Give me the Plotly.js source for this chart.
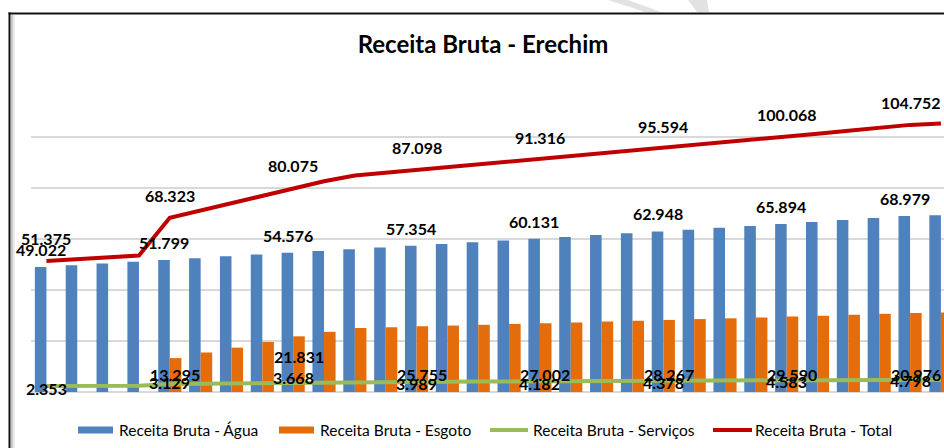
<!DOCTYPE html>
<html>
<head>
<meta charset="utf-8">
<script src="https://cdn.plot.ly/plotly-3.0.1.min.js"></script>
<style>html,body{margin:0;padding:0;background:#fff;}#chart{width:944px;height:448px;}</style>
</head>
<body>
<div id="chart"></div>
<script>
// ---- data ----
const categories = ["1","2","3","4","5","6","7","8","9","10","11","12","13","14","15",
                    "16","17","18","19","20","21","22","23","24","25","26","27","28","29","30"];
const agua = [49.022, 49.72, 50.41, 51.11, 51.799, 52.49, 53.19, 53.88, 54.576, 55.27,
              55.97, 56.66, 57.354, 58.05, 58.74, 59.44, 60.131, 60.83, 61.54, 62.24,
              62.948, 63.67, 64.40, 65.14, 65.894, 66.70, 67.50, 68.25, 68.979, 69.30];
const esgoto = [0, 0, 0, 0, 13.295, 15.5, 17.4, 19.6, 21.831, 23.6,
                25.1, 25.4, 25.755, 26.05, 26.35, 26.7, 27.002, 27.3, 27.6, 27.95,
                28.267, 28.6, 28.9, 29.25, 29.590, 29.95, 30.3, 30.65, 30.976, 31.15];
const servicos = [2.353, 2.37, 2.39, 2.41, 3.129, 3.27, 3.40, 3.54, 3.668, 3.75,
                  3.83, 3.91, 3.989, 4.04, 4.09, 4.14, 4.182, 4.23, 4.28, 4.33,
                  4.378, 4.43, 4.48, 4.53, 4.583, 4.64, 4.69, 4.74, 4.798, 4.85];
const total = [51.375, 52.09, 52.80, 53.52, 68.323, 71.26, 73.99, 77.02, 80.075, 82.62,
               84.90, 85.97, 87.098, 88.14, 89.18, 90.28, 91.316, 92.36, 93.42, 94.52,
               95.594, 96.70, 97.78, 98.92, 100.068, 101.29, 102.49, 103.64, 104.752, 105.30];
const labelIndex = [0, 4, 8, 12, 16, 20, 24, 28];
const seriesNames = ["Receita Bruta - Água", "Receita Bruta - Esgoto", "Receita Bruta - Serviços", "Receita Bruta - Total"];
const titleText = "Receita Bruta - Erechim";

// ---- styles ----
const colors = {agua:"#4F81BD", esgoto:"#E46C0A", serv:"#9BBB59", total:"#C00000"};
const FONT = "Lato, 'Open Sans', sans-serif";
const L = 31, R = 944, T = 86, B = 392, W = R - L, H = B - T;
const px = x => (x - L) / W;
const py = y => (B - y) / H;

const traces = [
  {type:"bar", name:seriesNames[0], x:categories, y:agua, marker:{color:colors.agua}, hoverinfo:"y"},
  {type:"bar", name:seriesNames[1], x:categories, y:esgoto, marker:{color:colors.esgoto}, hoverinfo:"y"},
  {type:"scatter", mode:"lines", name:seriesNames[2], x:categories, y:servicos,
   line:{color:colors.serv, width:4}},
  {type:"scatter", mode:"lines", name:seriesNames[3], x:categories, y:total,
   line:{color:colors.total, width:4}}
];

const lblFont = {family:FONT, size:16, color:"#000"};
const ann = [];
function fmt(v){ return v.toFixed(3); }
const servShift = {0:-2, 4:2, 8:5, 12:-2, 16:-2, 20:-1.5, 24:-1, 28:-0.5};
labelIndex.forEach(i => {
  // x given as the category index (numeric) so it lands on the right category
  ann.push({x:i, y:total[i], xref:"x", yref:"y", text:"<b>"+fmt(total[i])+"</b>",
            showarrow:false, yshift:22, font:lblFont});
  ann.push({x:i, y:agua[i], xref:"x", yref:"y", text:"<b>"+fmt(agua[i])+"</b>",
            showarrow:false, yshift:17.5, xshift:-5.5, font:lblFont});
  if (esgoto[i] > 0) {
    ann.push({x:i, y:0, xref:"x", yref:"y", text:"<b>"+fmt(esgoto[i])+"</b>",
              showarrow:false, yshift:(i === 8 ? 36 : 18), xshift:5.5, font:lblFont});
  }
  ann.push({x:i, y:servicos[i], xref:"x", yref:"y", text:"<b>"+fmt(servicos[i])+"</b>",
            showarrow:false, yshift:servShift[i] || 0, font:lblFont});
});

// custom legend
const legFont = {family:FONT, size:15.5, color:"#000"};
const legY = 430;
const legItems = [
  {kind:"rect", x0:78, x1:113, tx:117, color:colors.agua, name:seriesNames[0]},
  {kind:"rect", x0:279, x1:314, tx:318, color:colors.esgoto, name:seriesNames[1]},
  {kind:"line", x0:490, x1:528, tx:531, color:colors.serv, name:seriesNames[2]},
  {kind:"line", x0:713, x1:752, tx:753, color:colors.total, name:seriesNames[3]}
];
const shapes = [];
legItems.forEach(it => {
  if (it.kind === "rect") {
    shapes.push({type:"rect", xref:"paper", yref:"paper", x0:px(it.x0), x1:px(it.x1),
                 y0:py(legY-3.5), y1:py(legY+3.5), fillcolor:it.color, line:{width:0}});
  } else {
    shapes.push({type:"line", xref:"paper", yref:"paper", x0:px(it.x0), x1:px(it.x1),
                 y0:py(legY), y1:py(legY), line:{color:it.color, width:4}});
  }
  ann.push({xref:"paper", yref:"paper", x:px(it.tx), y:py(legY), xanchor:"left", yanchor:"middle",
            text:it.name, showarrow:false, font:legFont});
});

// frame + shadow + watermark pieces
shapes.push({type:"path", xref:"paper", yref:"paper", layer:"below",
  path:`M${px(608)},${py(0)} L${px(628)},${py(0)} L${px(661)},${py(12)} L${px(645)},${py(12)} Z`,
  fillcolor:"#e2e2e2", line:{width:0}});
shapes.push({type:"path", xref:"paper", yref:"paper", layer:"below",
  path:`M${px(688)},${py(0)} L${px(707)},${py(0)} L${px(709)},${py(12)} L${px(697)},${py(12)} Z`,
  fillcolor:"#e2e2e2", line:{width:0}});
shapes.push({type:"line", xref:"paper", yref:"paper", x0:px(12), x1:px(12), y0:py(15), y1:py(448),
             line:{color:"#c8c8c8", width:2}});
shapes.push({type:"line", xref:"paper", yref:"paper", x0:px(14), x1:px(14), y0:py(15), y1:py(448),
             line:{color:"#ececec", width:2}});
shapes.push({type:"line", xref:"paper", yref:"paper", x0:px(9.5), x1:px(9.5), y0:py(12.5), y1:py(448),
             line:{color:"#111", width:2}});
shapes.push({type:"line", xref:"paper", yref:"paper", x0:px(8.5), x1:px(944), y0:py(13.5), y1:py(13.5),
             line:{color:"#111", width:2}});

const layout = {
  width:944, height:448,
  margin:{l:L, r:944-R, t:T, b:448-B, pad:0},
  paper_bgcolor:"#fff", plot_bgcolor:"#fff",
  title:{text:"<b>"+titleText+"</b>", x:483/944, xref:"container", xanchor:"center",
         y:1-45/448, yref:"container", yanchor:"middle",
         font:{family:FONT, size:24, color:"#000"}},
  showlegend:false,
  barmode:"group", bargap:0.25, bargroupgap:0,
  xaxis:{type:"category", range:[-0.5, 29.1], showticklabels:false, showgrid:false,
         zeroline:false, showline:false, ticks:"", fixedrange:true},
  yaxis:{range:[0,120], dtick:20, tick0:0, showticklabels:false, showgrid:true,
         gridcolor:"#d9d9d9", gridwidth:1.2, zeroline:true, zerolinecolor:"#d9d9d9",
         zerolinewidth:1.2, showline:false, ticks:"", fixedrange:true},
  annotations:ann,
  shapes:shapes,
  font:{family:FONT}
};

Plotly.newPlot("chart", traces, layout, {displayModeBar:false, staticPlot:true});
</script>
</body>
</html>
